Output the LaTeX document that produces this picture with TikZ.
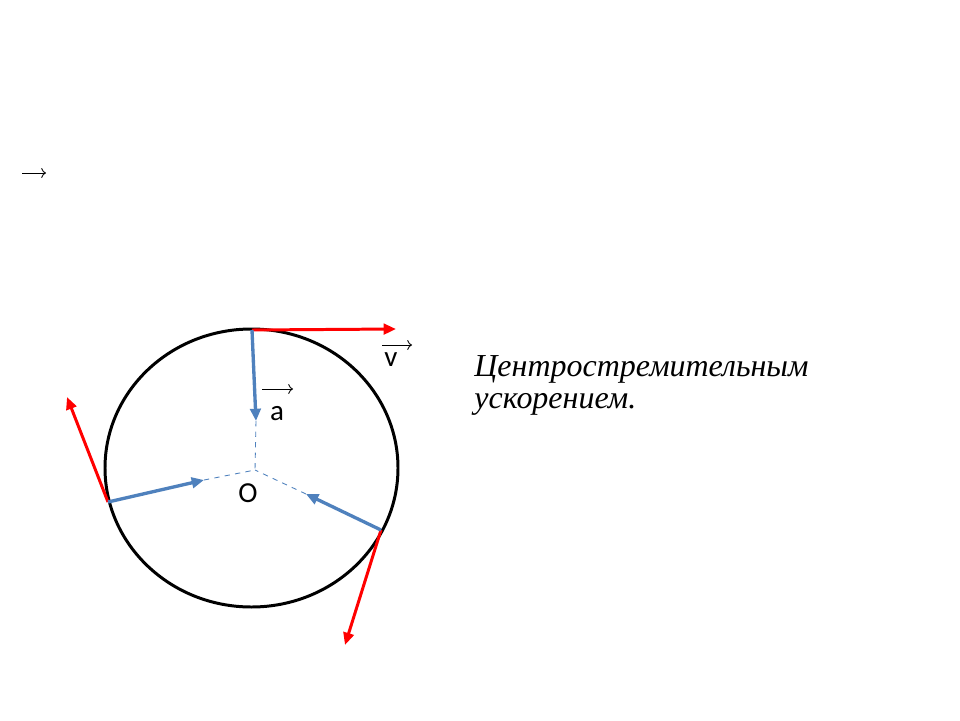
\documentclass[tikz,border=0pt]{standalone}
\usepackage{fontspec}
\setmainfont{Liberation Serif}
\newfontfamily\labelfont{Carlito}
\usetikzlibrary{arrows.meta}

\definecolor{velred}{RGB}{255,0,0}
\definecolor{accblue}{RGB}{79,129,189}

\begin{document}
\begin{tikzpicture}[x=0.02cm, y=-0.02cm,
    velocity/.style={line width=1.7pt, velred, -{Triangle[length=7pt,width=6pt]}},
    accel/.style={line width=1.9pt, accblue, -{Triangle[length=7pt,width=6pt]}},
    radius line/.style={accblue, dashed, line width=0.5pt},
    vecmark/.style={line width=0.5pt, ->},
    letter/.style={font=\labelfont\fontsize{16.5}{18}\selectfont},
    phrase/.style={anchor=base west, inner sep=0pt, font=\itshape\fontsize{18.2}{20}\selectfont}]
  \useasboundingbox (0,0) rectangle (960,720);

  % circle and centre
  \coordinate (O) at (255,470);
  \draw [line width=1.7pt] (251.5,468) ellipse [x radius=146.5, y radius=139];

  % points on the circle
  \coordinate (P1) at (252,330);
  \coordinate (P2) at (108,502);
  \coordinate (P3) at (381,530);

  % ends of acceleration arrows
  \coordinate (A1) at (256,421);
  \coordinate (A2) at (204,480);
  \coordinate (A3) at (306,494);

  % ends of velocity arrows
  \coordinate (V1) at (396,329);
  \coordinate (V2) at (67,397);
  \coordinate (V3) at (345,645);

  \draw [radius line] (A1) -- (O);
  \draw [radius line] (A2) -- (O);
  \draw [radius line] (A3) -- (O);

  \draw [velocity] (P1) -- (V1);
  \draw [velocity] (P2) -- (V2);
  \draw [velocity] (P3) -- (V3);

  \draw [accel] (P1) -- (A1);
  \draw [accel] (P2) -- (A2);
  \draw [accel] (P3) -- (A3);

  % labels
  \node [letter] (v) at (391,360) {v};
  \node [letter] (a) at (277,414) {a};
  \node [letter] (o) at (248,493) {O};
  \draw [vecmark] (382,345) -- (412,345);
  \draw [vecmark] (262,389) -- (293,389);
  \draw [vecmark] (22,173) -- (46,173);

  \node [phrase] (line1) at (474,376) {Центростремительным};
  \node [phrase] (line2) at (474,408) {ускорением.};
\end{tikzpicture}
\end{document}
